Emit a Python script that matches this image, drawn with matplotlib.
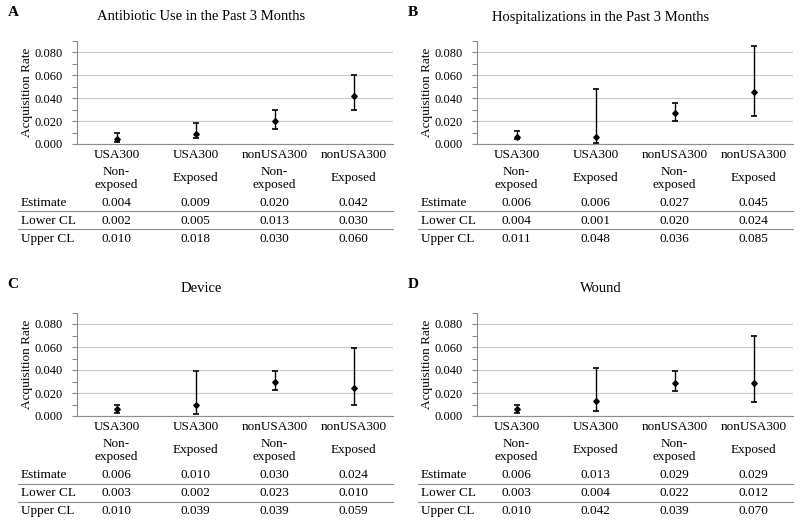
import matplotlib
matplotlib.use("Agg")
import matplotlib.pyplot as plt
from matplotlib.ticker import MultipleLocator, FormatStrFormatter

plt.rcParams["font.family"] = ["Liberation Serif", "DejaVu Serif"]

groups = ["USA300", "USA300", "nonUSA300", "nonUSA300"]
exposure = ["Non-\nexposed", "Exposed", "Non-\nexposed", "Exposed"]
row_names = ["Estimate", "Lower CL", "Upper CL"]

titles = ["Antibiotic Use in the Past 3 Months",
          "Hospitalizations in the Past 3 Months",
          "Device", "Wound"]
letters = ["A", "B", "C", "D"]

est_a = [0.004, 0.009, 0.020, 0.042]
low_a = [0.002, 0.005, 0.013, 0.030]
up_a = [0.010, 0.018, 0.030, 0.060]

est_b = [0.006, 0.006, 0.027, 0.045]
low_b = [0.004, 0.001, 0.020, 0.024]
up_b = [0.011, 0.048, 0.036, 0.085]

est_c = [0.006, 0.010, 0.030, 0.024]
low_c = [0.003, 0.002, 0.023, 0.010]
up_c = [0.010, 0.039, 0.039, 0.059]

est_d = [0.006, 0.013, 0.029, 0.029]
low_d = [0.003, 0.004, 0.022, 0.012]
up_d = [0.010, 0.042, 0.039, 0.070]

panels = [(est_a, low_a, up_a), (est_b, low_b, up_b),
          (est_c, low_c, up_c), (est_d, low_d, up_d)]

W, H = 800, 524
fig = plt.figure(figsize=(W / 100, H / 100), dpi=100)

grid_col = "#c8c8c8"
spine_col = "#8c8c8c"

ax_w = 316

for k, (est, low, up) in enumerate(panels):
    xoff = 0 if k % 2 == 0 else 400
    yoff = 0 if k < 2 else 272
    left = 77 + xoff
    top = 40.5 + yoff
    bot = 144 + yoff
    ax = fig.add_axes([left / W, 1 - bot / H, ax_w / W, (bot - top) / H])
    xs = range(len(est))
    yerr = [[e - l for e, l in zip(est, low)], [u - e for e, u in zip(est, up)]]
    ax.errorbar(xs, est, yerr=yerr, fmt="D", color="black", ms=2.8,
                elinewidth=1.0, capsize=2.5, capthick=1.2, zorder=3)
    ax.set_xlim(-0.5, 3.5)
    ax.set_ylim(0, 0.09)
    ax.yaxis.set_major_locator(MultipleLocator(0.02))
    ax.yaxis.set_minor_locator(MultipleLocator(0.01))
    ax.yaxis.set_major_formatter(FormatStrFormatter("%.3f"))
    ax.grid(axis="y", color=grid_col, lw=0.8)
    ax.set_axisbelow(True)
    for s in ["top", "right"]:
        ax.spines[s].set_visible(False)
    for s in ["left", "bottom"]:
        ax.spines[s].set_color(spine_col)
        ax.spines[s].set_linewidth(0.8)
    ax.set_xticks([])
    ax.tick_params(axis="y", which="both", direction="out", length=3.5,
                   color=spine_col, width=0.8, labelsize=9, pad=7)
    ax.set_ylabel("Acquisition Rate", fontsize=9.5)
    ax.yaxis.set_label_coords(-44 / ax_w, 0.5)

    # table under axes (pixel rows relative to panel)
    hpx = bot - top
    def fy(py):
        return (bot - (py + yoff)) / hpx
    tr = ax.get_xaxis_transform()
    for i in xs:
        ax.text(i, fy(155), groups[i], transform=tr, ha="center", va="center",
                fontsize=9.5, clip_on=False)
        ax.text(i, fy(178.5), exposure[i], transform=tr, ha="center", va="center",
                fontsize=9.5, linespacing=1.15, clip_on=False)
        for r, vals in enumerate([est, low, up]):
            ax.text(i, fy(203 + r * 18), f"{vals[i]:.3f}", transform=tr,
                    ha="center", va="center", fontsize=9.5, clip_on=False)
    for r, name in enumerate(row_names):
        ax.text(-56 / ax_w, fy(203 + r * 18), name, transform=ax.transAxes,
                ha="left", va="center", fontsize=9.5, clip_on=False)
    for py in (211.5, 229.5):
        ax.plot([-59 / ax_w, 1.0], [fy(py), fy(py)], transform=ax.transAxes,
                color=spine_col, lw=0.8, clip_on=False)

    # title and panel letter
    fig.text((xoff + 201) / W, 1 - (yoff + 17) / H, titles[k], ha="center",
             va="center", fontsize=10.5)
    fig.text((xoff + 13) / W, 1 - (yoff + 13) / H, letters[k], ha="center",
             va="center", fontsize=11, fontweight="bold")

fig.savefig("out.png", dpi=100)
